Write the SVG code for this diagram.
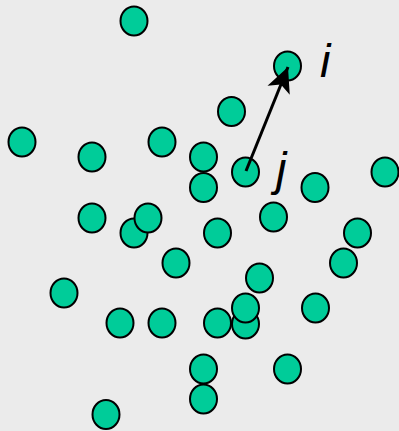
<svg xmlns="http://www.w3.org/2000/svg" width="399" height="431" viewBox="0 0 399 431">
<style>
.n{fill:#00CC99;stroke:#000;stroke-width:2}
.lbl{font-family:"Liberation Sans",Arial,sans-serif;font-style:italic;font-size:47px;fill:#000}
</style>
<defs>
<marker id="ah" markerUnits="userSpaceOnUse" markerWidth="30" markerHeight="30" refX="0" refY="0" viewBox="-26 -13 30 26" orient="auto" overflow="visible">
<path d="M0,0 L-25,-12 L-19,0 L-25,12 Z" fill="#000"/>
</marker>
</defs>
<rect width="399" height="431" fill="#EBEBEB"/>
<g id="nodes">
<g id="n1"><ellipse class="n" cx="134" cy="21" rx="13.5" ry="14.5"/></g>
<g id="i"><ellipse class="n" cx="287.5" cy="66" rx="13.5" ry="14.5"/></g>
<g id="n3"><ellipse class="n" cx="231.5" cy="111.5" rx="13.5" ry="14.5"/></g>
<g id="n4"><ellipse class="n" cx="22" cy="142" rx="13.5" ry="14.5"/></g>
<g id="n5"><ellipse class="n" cx="162" cy="142" rx="13.5" ry="14.5"/></g>
<g id="n6"><ellipse class="n" cx="92" cy="157" rx="13.5" ry="14.5"/></g>
<g id="n7"><ellipse class="n" cx="203.5" cy="157" rx="13.5" ry="14.5"/></g>
<g id="n8"><ellipse class="n" cx="203.5" cy="187.5" rx="13.5" ry="14.5"/></g>
<g id="j"><ellipse class="n" cx="245.5" cy="172" rx="13.5" ry="14.5"/></g>
<g id="n10"><ellipse class="n" cx="385" cy="172" rx="13.5" ry="14.5"/></g>
<g id="n11"><ellipse class="n" cx="315" cy="187.5" rx="13.5" ry="14.5"/></g>
<g id="n12"><ellipse class="n" cx="92" cy="218" rx="13.5" ry="14.5"/></g>
<g id="n13"><ellipse class="n" cx="134" cy="233" rx="13.5" ry="14.5"/></g>
<g id="n14"><ellipse class="n" cx="148" cy="218" rx="13.5" ry="14.5"/></g>
<g id="n15"><ellipse class="n" cx="273.5" cy="217" rx="13.5" ry="14.5"/></g>
<g id="n16"><ellipse class="n" cx="217.5" cy="233" rx="13.5" ry="14.5"/></g>
<g id="n17"><ellipse class="n" cx="357.5" cy="233" rx="13.5" ry="14.5"/></g>
<g id="n18"><ellipse class="n" cx="176" cy="263" rx="13.5" ry="14.5"/></g>
<g id="n19"><ellipse class="n" cx="343.5" cy="263" rx="13.5" ry="14.5"/></g>
<g id="n20"><ellipse class="n" cx="259.5" cy="278" rx="13.5" ry="14.5"/></g>
<g id="n21"><ellipse class="n" cx="64" cy="293" rx="13.5" ry="14.5"/></g>
<g id="n22"><ellipse class="n" cx="315.5" cy="308" rx="13.5" ry="14.5"/></g>
<g id="n23"><ellipse class="n" cx="120" cy="323" rx="13.5" ry="14.5"/></g>
<g id="n24"><ellipse class="n" cx="162" cy="323" rx="13.5" ry="14.5"/></g>
<g id="n25"><ellipse class="n" cx="245.5" cy="324" rx="13.5" ry="14.5"/></g>
<g id="n26"><ellipse class="n" cx="217.5" cy="323" rx="13.5" ry="14.5"/></g>
<g id="n27"><ellipse class="n" cx="245.5" cy="308" rx="13.5" ry="14.5"/></g>
<g id="n28"><ellipse class="n" cx="287.5" cy="369" rx="13.5" ry="14.5"/></g>
<g id="n29"><ellipse class="n" cx="203.5" cy="369" rx="13.5" ry="14.5"/></g>
<g id="n30"><ellipse class="n" cx="203.5" cy="399" rx="13.5" ry="14.5"/></g>
<g id="n31"><ellipse class="n" cx="106" cy="414.5" rx="13.5" ry="14.5"/></g>
</g>
<g id="connectors">
<line x1="246" y1="171" x2="288" y2="67" stroke="#000" stroke-width="3" marker-end="url(#ah)"/>
</g>
<g id="labels">
<text class="lbl" x="320" y="77">i</text>
<text class="lbl" x="276" y="185">j</text>
</g>
</svg>
